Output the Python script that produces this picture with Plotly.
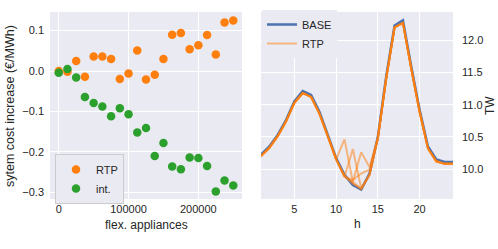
import plotly.graph_objects as go

# ---- left panel data ----
flex_appliances = [0, 12500, 25000, 37500, 50000, 62500, 75000, 87500, 100000, 112500,
                   125000, 137500, 150000, 162500, 175000, 187500, 200000, 212500,
                   225000, 237500, 250000]
cost_rtp = [0.000, -0.002, 0.025, -0.014, 0.036, 0.036, 0.030, -0.020, -0.006, 0.051,
            -0.021, -0.009, 0.030, 0.090, 0.094, 0.054, 0.064, 0.089, 0.041, 0.120, 0.125]
cost_int = [-0.004, 0.005, -0.016, -0.064, -0.079, -0.088, -0.112, -0.092, -0.107, -0.152,
            -0.141, -0.210, -0.178, -0.236, -0.243, -0.214, -0.215, -0.235, -0.298, -0.271, -0.283]
left_xtick_vals = [0, 100000, 200000]
left_xtick_text = ["0", "100000", "200000"]

# ---- right panel data ----
hours = list(range(1, 25))
base_tw = [10.22, 10.35, 10.53, 10.76, 11.05, 11.21, 11.15, 10.89, 10.53, 10.17, 9.91, 9.75,
           9.68, 9.93, 10.50, 11.44, 12.23, 12.31, 11.59, 10.92, 10.35, 10.15, 10.11, 10.11]
rtp_tw_a = [10.20, 10.33, 10.51, 10.74, 11.03, 11.18, 11.12, 10.86, 10.51, 10.15, 9.89, 9.77,
            9.69, 9.91, 10.48, 11.41, 12.20, 12.27, 11.56, 10.89, 10.32, 10.12, 10.08, 10.08]
rtp_tw_b = [10.20, 10.33, 10.51, 10.74, 11.03, 11.18, 11.12, 10.86, 10.51, 10.15, 10.46, 9.80,
            9.69, 9.91, 10.48, 11.41, 12.20, 12.27, 11.56, 10.89, 10.32, 10.12, 10.08, 10.08]
rtp_tw_c = [10.20, 10.33, 10.51, 10.74, 11.03, 11.18, 11.12, 10.86, 10.51, 10.15, 9.88, 10.31,
            9.70, 9.91, 10.48, 11.41, 12.20, 12.27, 11.56, 10.89, 10.32, 10.12, 10.08, 10.08]
rtp_tw_d = [10.20, 10.33, 10.51, 10.74, 11.03, 11.18, 11.12, 10.86, 10.51, 10.15, 9.89, 9.80,
            10.26, 10.03, 10.48, 11.41, 12.20, 12.27, 11.56, 10.89, 10.32, 10.12, 10.08, 10.08]
rtp_tw_e = [10.20, 10.33, 10.51, 10.74, 11.03, 11.18, 11.12, 10.86, 10.51, 10.15, 9.88, 9.83,
            9.93, 9.99, 10.48, 11.41, 12.20, 12.27, 11.56, 10.89, 10.32, 10.12, 10.08, 10.08]
rtp_series = [rtp_tw_a, rtp_tw_b, rtp_tw_c, rtp_tw_d, rtp_tw_e]
right_xtick_vals = [5, 10, 15, 20]

ORANGE = "#ff7f0e"
GREEN = "#2ca02c"
BLUE = "#4c72b0"
BG = "#eaeaf2"
FONT = "Liberation Sans, Arial, sans-serif"

fig = go.Figure()

fig.add_trace(go.Scatter(x=flex_appliances, y=cost_rtp, mode="markers", name="RTP",
                         marker=dict(color=ORANGE, size=8.5), xaxis="x", yaxis="y",
                         legend="legend"))
fig.add_trace(go.Scatter(x=flex_appliances, y=cost_int, mode="markers", name="int.",
                         marker=dict(color=GREEN, size=8.5), xaxis="x", yaxis="y",
                         legend="legend"))

fig.add_trace(go.Scatter(x=hours, y=base_tw, mode="lines", name="BASE",
                         line=dict(color=BLUE, width=2.5), xaxis="x2", yaxis="y2",
                         legend="legend2"))
for i, s in enumerate(rtp_series):
    fig.add_trace(go.Scatter(x=hours, y=s, mode="lines", name="RTP",
                             line=dict(color=ORANGE, width=2), opacity=0.5,
                             xaxis="x2", yaxis="y2", legend="legend2",
                             showlegend=(i == 0)))

W, H = 498, 249
def px(x):
    return x / W
def py(y):
    return 1 - y / H

axis_common = dict(showgrid=True, gridcolor="white", gridwidth=1.2, zeroline=False,
                   showline=False, ticks="", automargin=False,
                   tickfont=dict(size=11, color="#262626"))

def title_ann(text, x, y, angle=0, size=12):
    return dict(text=text, x=px(x), y=py(y), xref="paper", yref="paper",
                xanchor="center", yanchor="middle", showarrow=False,
                textangle=angle, font=dict(size=size))

fig.update_layout(
    width=W, height=H,
    margin=dict(l=0, r=0, t=0, b=0),
    paper_bgcolor="white", plot_bgcolor=BG,
    font=dict(family=FONT, size=11, color="#262626"),
    xaxis=dict(domain=[px(50), px(242)], range=[-12500, 262500],
               tickvals=left_xtick_vals, ticktext=left_xtick_text, anchor="y",
               ticklabelstandoff=2, **axis_common),
    yaxis=dict(domain=[py(199), py(12)], range=[-0.3166, 0.146], dtick=0.1,
               tickformat=".1f", anchor="x", ticklabelstandoff=5, **axis_common),
    xaxis2=dict(domain=[px(261), px(453)], range=[1, 24], tickvals=right_xtick_vals,
                anchor="y2", ticklabelstandoff=2, **axis_common),
    yaxis2=dict(domain=[py(199), py(12)], range=[9.534, 12.44], dtick=0.5,
                tickformat=".1f", side="right", anchor="x2", ticklabelstandoff=8,
                **axis_common),
    legend=dict(x=px(55), y=py(154), xanchor="left", yanchor="top",
                bgcolor=BG, bordercolor="#cccccc", borderwidth=1,
                font=dict(size=11, color="#262626"), tracegroupgap=0),
    legend2=dict(x=px(262), y=py(10), xanchor="left", yanchor="top",
                 bgcolor=BG, bordercolor=BG, borderwidth=0,
                 font=dict(size=11, color="#262626"), tracegroupgap=0),
    annotations=[
        title_ann("sytem cost increase (€/MWh)", 10, 106, -90, 12.5),
        title_ann("flex. appliances", 146, 225),
        title_ann("h", 357, 224),
        title_ann("TW", 490, 106, -90),
    ],
)

fig.write_html("out.html",
               config={"displayModeBar": False},
               post_script="document.body.style.margin='0';document.body.style.padding='0';")
